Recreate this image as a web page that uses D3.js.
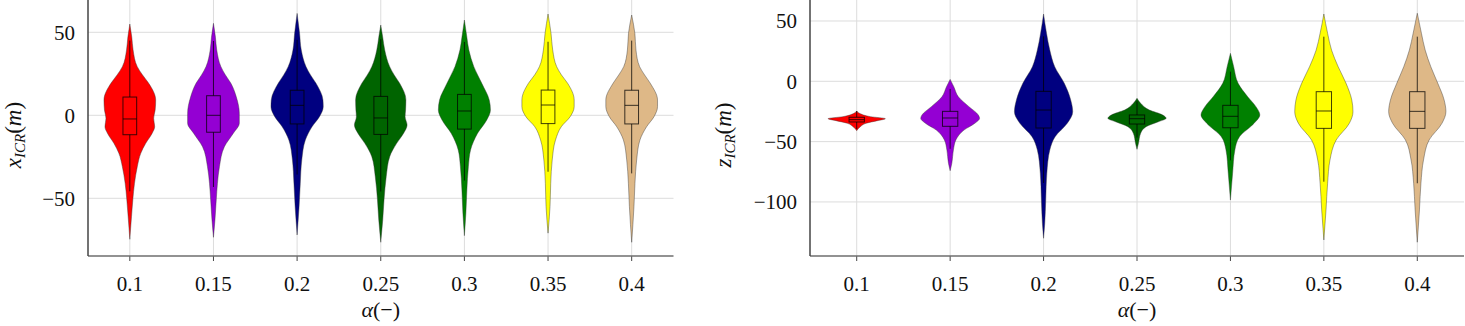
<!DOCTYPE html>
<html>
<head>
<meta charset="utf-8">
<script src="https://cdn.jsdelivr.net/npm/d3@7"></script>
<style>
	body { margin: 0; background: #fff; }
	svg { display: block; font-family: 'Liberation Serif', 'DejaVu Serif', serif; }
</style>
</head>
<body>
<svg id="chart" width="1465" height="326"></svg>
<script>
/* global d3 */

const categories = ['0.1', '0.15', '0.2', '0.25', '0.3', '0.35', '0.4'];
const violinColors = ['#ff0000', '#9400d3', '#000080', '#006400', '#008000', '#ffff00', '#deb887'];

const xIcrTicks = [-50, 0, 50];
const zIcrTicks = [-100, -50, 0, 50];

// box stats: [whisker lo, q1, median, q3, whisker hi]
const xIcrBoxes = [
	[-45.8, -11.7, -2.2, 11.0, 45.0],
	[-43.2, -10.2, 0.0, 11.8, 44.8],
	[-35.7, -5.2, 6.0, 15.1, 45.5],
	[-45.9, -11.5, -1.6, 11.4, 45.8],
	[-39.3, -8.3, 2.6, 12.6, 44.2],
	[-34.0, -5.0, 6.2, 15.2, 44.3],
	[-35.0, -5.2, 6.0, 15.1, 45.0]
];
const zIcrBoxes = [
	[-39.6, -33.7, -31.8, -29.8, -24.6],
	[-55.9, -37.3, -30.4, -24.9, -6.3],
	[-84.3, -38.7, -23.8, -8.3, 37.3],
	[-46.6, -35.4, -31.0, -27.9, -16.6],
	[-65.5, -38.5, -29.0, -19.9, 8.0],
	[-83.2, -39.0, -24.6, -8.6, 37.0],
	[-84.5, -39.0, -24.9, -8.6, 37.0]
];

// violin outlines: [value, relative density]
const xIcrProfiles = [
	[[55, 0], [47, 2], [39.3, 3.3], [29.3, 7.5], [24.3, 12.8], [19.3, 19], [9.2, 26], [3.2, 25.5], [-1.8, 24], [-6.9, 25], [-10.8, 22.5], [-16.9, 16], [-22.9, 11], [-31, 7.5], [-41, 4.7], [-51, 3], [-61, 1.7], [-74.7, 0]],
	[[55.4, 0], [47, 2], [39.3, 3.3], [29.3, 7.5], [24.3, 12], [19.3, 17.5], [11, 23], [1.2, 26], [-4.8, 26], [-10.8, 20], [-18.9, 11], [-31, 6], [-41, 4], [-51, 2.8], [-63, 1.5], [-73.5, 0]],
	[[61.4, 0], [49.4, 2.5], [39.3, 4.2], [29.3, 9], [24.3, 13.5], [19.3, 19], [9.2, 26], [5.2, 26.3], [-0.8, 22.5], [-6.9, 15], [-14.9, 8.3], [-26.9, 4.7], [-41, 3.2], [-55, 2], [-72.1, 0]],
	[[54.4, 0], [47, 2], [39.3, 4], [29.3, 9], [24.3, 13.5], [19.3, 19], [9.2, 25.3], [3.2, 25], [-0.8, 24.5], [-5.8, 26.5], [-10.8, 23], [-16.9, 16], [-24.9, 9], [-37, 5.5], [-51, 3.3], [-63, 2], [-76.5, 0]],
	[[57.4, 0], [47, 2.5], [39.3, 4.5], [29.3, 9.5], [19.3, 17.5], [9.2, 25], [3.2, 26.2], [-2.8, 22.5], [-10.8, 13.3], [-20.9, 6.2], [-31, 4], [-45, 2.5], [-59, 1.5], [-72.5, 0]],
	[[61, 0], [49.4, 3], [39.3, 4.7], [29.3, 8.7], [24.3, 13.5], [19.3, 19.7], [9.2, 26.3], [5.2, 26.3], [-0.8, 22.3], [-6.9, 13.3], [-14.9, 7.5], [-26.9, 4.2], [-41, 2.7], [-55, 2], [-71, 0]],
	[[60.4, 0], [49.4, 3.2], [39.3, 4.3], [29.3, 8], [24.3, 13], [19.3, 18.7], [9.2, 26], [5.2, 26], [-0.8, 22.5], [-6.9, 15], [-14.9, 8.3], [-26.9, 5], [-41, 3.3], [-55, 2.3], [-76.5, 0]]
];
const zIcrProfiles = [
	[[-24.6, 0], [-26.5, 2.8], [-29.3, 14], [-31, 29], [-32.6, 21], [-34.8, 9.5], [-37.6, 3.7], [-40.9, 0]],
	[[1.6, 0], [-4.5, 3.7], [-12.8, 8.3], [-21, 19], [-27.9, 28.5], [-30.7, 29.8], [-34.8, 25], [-40.4, 14], [-48.6, 5.8], [-56.9, 3.3], [-68, 1.7], [-74.1, 0]],
	[[55.8, 0], [39.8, 3], [25.9, 6.3], [12.1, 11.3], [-1.7, 21], [-15.5, 27.5], [-25.2, 29.5], [-34.8, 24], [-45.9, 11.7], [-56.9, 6.3], [-76.2, 3.3], [-98.4, 2.2], [-117.7, 1.2], [-130.1, 0]],
	[[-14.1, 0], [-18.2, 3.7], [-23.8, 12.5], [-27.9, 26], [-30.7, 29.5], [-33.5, 21.7], [-37.6, 9.2], [-43.1, 3.7], [-51.4, 1.5], [-56.4, 0]],
	[[23.2, 0], [12.1, 3.3], [-1.7, 7.8], [-12.8, 17.5], [-21, 25.8], [-27.9, 29.8], [-34.8, 24], [-45.9, 9.2], [-56.9, 4.5], [-76.2, 2.2], [-98.4, 0]],
	[[55.8, 0], [39.8, 3.8], [25.9, 7.8], [12.1, 14.5], [-1.7, 22.5], [-15.5, 28.3], [-25.2, 29.5], [-34.8, 25.8], [-48.6, 12.5], [-65.2, 6.2], [-84.5, 3.8], [-106.6, 2.2], [-131.5, 0]],
	[[56.4, 0], [39.8, 4.2], [25.9, 8], [12.1, 13.7], [-1.7, 20.8], [-15.5, 27.2], [-25.2, 29], [-34.8, 25], [-48.6, 12], [-65.2, 6.3], [-84.5, 3.7], [-106.6, 2.2], [-133.4, 0]]
];

const svg = d3.select('#chart');

function drawPanel (o) {
	var g = svg.append('g');
	var x = d3.scaleBand().domain(categories).range([o.left, o.right]);
	var y = d3.scaleLinear().domain(o.yDomain).range([o.bottom, o.top]);
	var step = x.step();
	var maxW = d3.max(o.profiles, p => d3.max(p, d => d[1]));
	var w = d3.scaleLinear().domain([0, maxW]).range([0, 0.315 * step]);
	var boxHalf = 0.082 * step;
	var cx = c => x(c) + x.bandwidth() / 2;

	// Gitter
	g.append('g').selectAll('line').data(o.ticks).join('line')
		.attr('x1', o.left).attr('x2', o.right)
		.attr('y1', d => y(d)).attr('y2', d => y(d))
		.attr('stroke', '#dcdcdc').attr('stroke-width', 1);
	g.append('g').selectAll('line').data(categories).join('line')
		.attr('x1', cx).attr('x2', cx)
		.attr('y1', o.top).attr('y2', o.bottom)
		.attr('stroke', '#dcdcdc').attr('stroke-width', 1);

	// Violinen
	categories.forEach(function (cat, i) {
		var c = cx(cat);
		var area = d3.area().curve(d3.curveMonotoneY)
			.y(d => y(d[0]))
			.x0(d => c - w(d[1]))
			.x1(d => c + w(d[1]));
		var vg = g.append('g');
		vg.append('path').datum(o.profiles[i])
			.attr('d', area)
			.attr('fill', violinColors[i])
			.attr('stroke', '#333').attr('stroke-opacity', 0.7).attr('stroke-width', 0.6);
		var b = o.boxes[i];
		vg.append('line')
			.attr('x1', c).attr('x2', c)
			.attr('y1', y(b[0])).attr('y2', y(b[4]))
			.attr('stroke', '#000').attr('stroke-opacity', 0.75).attr('stroke-width', 1);
		vg.append('rect')
			.attr('x', c - boxHalf).attr('width', boxHalf * 2)
			.attr('y', y(b[3])).attr('height', y(b[1]) - y(b[3]))
			.attr('fill', violinColors[i])
			.attr('stroke', '#000').attr('stroke-opacity', 0.75).attr('stroke-width', 1);
		vg.append('line')
			.attr('x1', c - boxHalf).attr('x2', c + boxHalf)
			.attr('y1', y(b[2])).attr('y2', y(b[2]))
			.attr('stroke', '#000').attr('stroke-opacity', 0.75).attr('stroke-width', 1);
	});

	// Achsen
	var xAxis = g.append('g').attr('transform', 'translate(0,' + o.bottom + ')')
		.call(d3.axisBottom(x).tickSizeInner(5).tickSizeOuter(0).tickPadding(15))
		.attr('font-family', null).attr('font-size', 21);
	xAxis.select('.domain').remove();
	xAxis.selectAll('line').attr('stroke', '#444');
	xAxis.selectAll('text').attr('fill', '#111');

	var yAxis = g.append('g').attr('transform', 'translate(' + o.left + ',0)')
		.call(d3.axisLeft(y).tickValues(o.ticks).tickSize(0).tickPadding(13)
			.tickFormat(d => d < 0 ? '\u2212' + Math.abs(d) : String(d)))
		.attr('font-family', null).attr('font-size', 21);
	yAxis.select('.domain').remove();
	yAxis.selectAll('text').attr('fill', '#111');

	g.append('line')
		.attr('x1', o.left).attr('x2', o.right)
		.attr('y1', o.bottom).attr('y2', o.bottom)
		.attr('stroke', '#6e6e6e').attr('stroke-width', 1.5);
	g.append('line')
		.attr('x1', o.left).attr('x2', o.left)
		.attr('y1', o.top).attr('y2', o.bottom)
		.attr('stroke', '#444').attr('stroke-width', 1.5);

	// Beschriftungen
	var xt = g.append('text')
		.attr('x', (o.left + o.right) / 2).attr('y', 317)
		.attr('text-anchor', 'middle').attr('font-size', 22).attr('fill', '#111');
	xt.append('tspan').attr('font-style', 'italic').text('\u03b1');
	xt.append('tspan').text('(\u2212)');

	var yt = g.append('text')
		.attr('transform', 'translate(' + o.labelX + ',135) rotate(-90)')
		.attr('text-anchor', 'middle').attr('font-size', 23).attr('fill', '#111');
	yt.append('tspan').attr('font-style', 'italic').text(o.varName);
	yt.append('tspan').attr('font-style', 'italic').attr('font-size', 15).attr('dy', 4).text('ICR');
	yt.append('tspan').attr('dy', -4).text('(');
	yt.append('tspan').attr('font-style', 'italic').text('m');
	yt.append('tspan').text(')');
}

drawPanel({
	left: 88, right: 673.5, top: 0, bottom: 256,
	yDomain: [-84.76, 69.46], ticks: xIcrTicks,
	boxes: xIcrBoxes, profiles: xIcrProfiles,
	varName: 'x', labelX: 21
});
drawPanel({
	left: 810, right: 1464, top: 0, bottom: 256,
	yDomain: [-144.8, 67.4], ticks: zIcrTicks,
	boxes: zIcrBoxes, profiles: zIcrProfiles,
	varName: 'z', labelX: 731
});
</script>
</body>
</html>
